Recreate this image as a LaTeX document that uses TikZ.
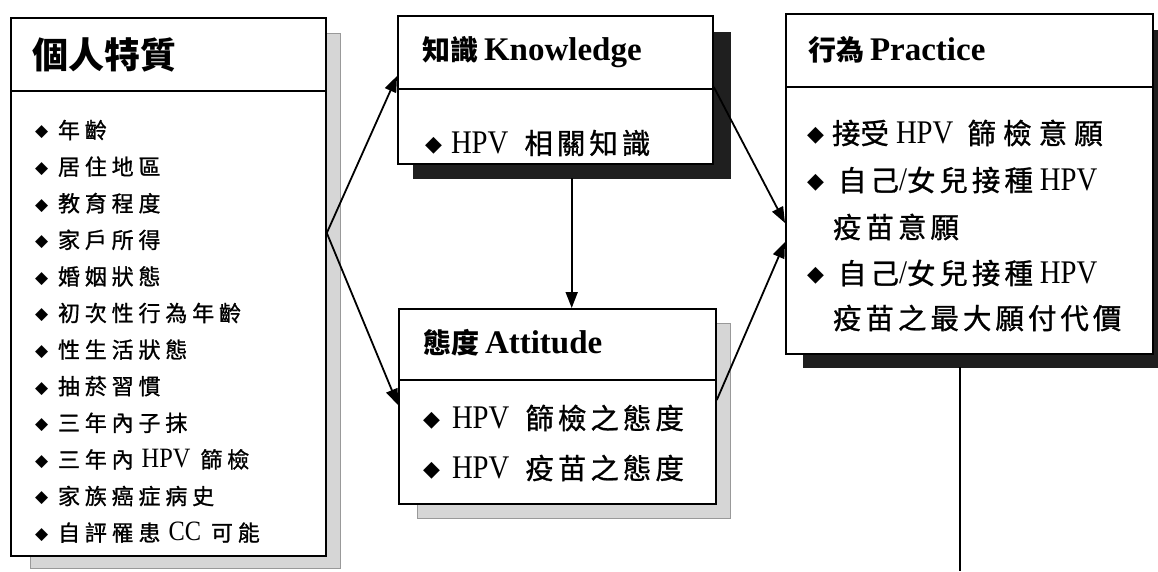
\documentclass[tikz,border=0pt]{standalone}
\usepackage{fontspec}
\setmainfont{Liberation Serif}
\newfontfamily\cjk{Noto Sans CJK TC}
\newfontfamily\cjkA{Noto Sans CJK TC}[LetterSpace=22,FakeBold=1]
\newfontfamily\cjkB{Noto Sans CJK TC}[LetterSpace=14,FakeBold=1]
\newfontfamily\cjkC{Noto Sans CJK TC}[LetterSpace=25,FakeBold=1]
\newfontfamily\cjkD{Noto Sans CJK TC}[LetterSpace=0,FakeBold=1]
\newfontfamily\latR{Liberation Serif}
\newfontfamily\latN{Liberation Serif}[FakeStretch=0.87]
\newfontfamily\dvs{DejaVu Sans}
\usetikzlibrary{arrows.meta,calc}
\newcommand\myfs[1]{\fontsize{#1}{#1}\selectfont}
\newcommand\myLdia{\makebox[23pt][l]{\raisebox{1.5pt}{\dvs\myfs{17}◆}}}
\newcommand\myLcjk[1]{{\cjkA\myfs{22}#1}}
\newcommand\myLlat[1]{{\latN\myfs{28}#1}}
\newcommand\myOdia[1]{\makebox[#1][l]{\raisebox{2pt}{\dvs\myfs{22}◆}}}
\newcommand\myOcjk[1]{{\cjkB\myfs{28.5}#1}}
\newcommand\myOlat[1]{{\latN\myfs{33}#1}}
\newcommand\myHcjk[1]{{\cjk\bfseries\myfs{28}#1}}
\newcommand\myHlat[1]{{\latR\bfseries\myfs{33}#1}}
\tikzset{
  box/.style={draw, line width=1.8pt, fill=white, inner sep=0pt, anchor=north west},
  lshadow/.style={fill=black!16, draw=black!40, line width=0.6pt, inner sep=0pt, anchor=north west},
  dshadow/.style={fill=black!88, draw=black!88, inner sep=0pt, anchor=north west},
  conn/.style={line width=1.8pt, -{Triangle[length=16pt,width=12pt]}},
  plain/.style={line width=1.8pt},
  divider/.style={line width=1.8pt},
  txt/.style={anchor=west, inner sep=0pt, outer sep=0pt},
}
\begin{document}
\begin{tikzpicture}[x=1pt,y=-1pt]
\useasboundingbox[fill=white] (0,0) rectangle (1158,571);
% shadows
\node[lshadow, minimum width=310pt, minimum height=535pt] (perssh) at (30,33) {};
\node[dshadow, minimum width=317pt, minimum height=146pt] (knowsh) at (413,32) {};
\node[lshadow, minimum width=313pt, minimum height=195pt] (attsh) at (417,323) {};
\node[dshadow, minimum width=365pt, minimum height=337pt] (pracsh) at (803,30) {};
% boxes
\node[box, minimum width=315pt, minimum height=538pt] (pers) at (10,17) {};
\node[box, minimum width=315pt, minimum height=148pt] (know) at (397,15) {};
\node[box, minimum width=317pt, minimum height=195pt] (att) at (398,308) {};
\node[box, minimum width=367pt, minimum height=340pt] (prac) at (785,13) {};
% dividers
\draw[divider] ([yshift=-74pt]pers.north west) -- ([yshift=-74pt]pers.north east);
\draw[divider] ([yshift=-74pt]know.north west) -- ([yshift=-74pt]know.north east);
\draw[divider] ([yshift=-72pt]att.north west) -- ([yshift=-72pt]att.north east);
\draw[divider] ([yshift=-74pt]prac.north west) -- ([yshift=-74pt]prac.north east);
% left texts
\node[txt] (persh) at (32,55) {{\cjk\bfseries\myfs{36}個人特質}};
\node[txt] (l0) at (35,130.0) {\myLdia\myLcjk{年齡}};
\node[txt] (l1) at (35,166.6) {\myLdia\myLcjk{居住地區}};
\node[txt] (l2) at (35,203.2) {\myLdia\myLcjk{教育程度}};
\node[txt] (l3) at (35,239.8) {\myLdia\myLcjk{家戶所得}};
\node[txt] (l4) at (35,276.4) {\myLdia\myLcjk{婚姻狀態}};
\node[txt] (l5) at (35,313.0) {\myLdia\myLcjk{初次性行為年齡}};
\node[txt] (l6) at (35,349.6) {\myLdia\myLcjk{性生活狀態}};
\node[txt] (l7) at (35,386.2) {\myLdia\myLcjk{抽菸習慣}};
\node[txt] (l8) at (35,422.8) {\myLdia\myLcjk{三年內子抹}};
\node[txt] (l9) at (35,459.4) {\myLdia\myLcjk{三年內}\hspace{8pt}\myLlat{HPV}\hspace{10pt}\myLcjk{篩檢}};
\node[txt] (l10) at (35,496.0) {\myLdia\myLcjk{家族癌症病史}};
\node[txt] (l11) at (35,532.6) {\myLdia\myLcjk{自評罹患}\hspace{8pt}\myLlat{CC}\hspace{10pt}\myLcjk{可能}};
% knowledge
\node[txt] (knowh) at (422,52) {\myHcjk{知識}\hspace{6pt}\myHlat{Knowledge}};
\node[txt] (know1) at (425,143) {\myOdia{26pt}\myOlat{HPV}\hspace{16pt}\myOcjk{相關知識}};
% attitude
\node[txt] (atth) at (423,343) {\myHcjk{態度}\hspace{6pt}\myHlat{Attitude}};
\node[txt] (att1) at (423,418) {\myOdia{29pt}\myOlat{HPV}\hspace{16pt}\myOcjk{篩檢之態度}};
\node[txt] (att2) at (423,468) {\myOdia{29pt}\myOlat{HPV}\hspace{16pt}\myOcjk{疫苗之態度}};
% practice
\node[txt] (prach) at (808,50) {\myHcjk{行為}\hspace{6pt}\myHlat{Practice}};
\node[txt] (prac1) at (807,133) {\myOdia{25pt}{\cjkD\myfs{28.5}接受}\hspace{7pt}\myOlat{HPV}\hspace{14pt}{\cjkC\myfs{28.5}篩檢意願}};
\node[txt] (prac2) at (807,180) {\myOdia{31pt}\myOcjk{自己}\myOlat{/}\myOcjk{女兒接種}\hspace{7pt}\myOlat{HPV}};
\node[txt] (prac3) at (833,227) {\myOcjk{疫苗意願}};
\node[txt] (prac4) at (807,273) {\myOdia{31pt}\myOcjk{自己}\myOlat{/}\myOcjk{女兒接種}\hspace{7pt}\myOlat{HPV}};
\node[txt] (prac5) at (833,318) {\myOcjk{疫苗之最大願付代價}};
% connectors
\draw[conn] ([yshift=-216pt]pers.north east) -- ([yshift=-61pt]know.north west);
\draw[conn] ([yshift=-216pt]pers.north east) -- ([yshift=-97pt]att.north west);
\draw[conn] (knowsh.south) -- (knowsh.south |- att.north);
\draw[conn] ([yshift=-72pt]know.north east) -- ([yshift=-210pt]prac.north west);
\draw[conn] ([yshift=-92pt]att.north east) -- ([yshift=-229pt]prac.north west);
\coordinate (pend) at (960,571);
\draw[plain] (pend |- pracsh.south) -- (pend);
\end{tikzpicture}
\end{document}
